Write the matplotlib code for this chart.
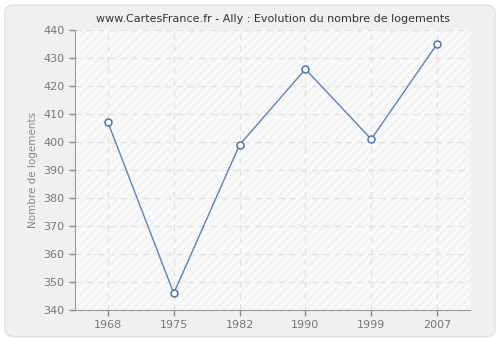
import matplotlib
matplotlib.use("Agg")
import matplotlib.pyplot as plt
from matplotlib.patches import FancyBboxPatch

years = ["1968", "1975", "1982", "1990", "1999", "2007"]
logements = [407, 346, 399, 426, 401, 435]

plt.rcParams['font.family'] = ['DejaVu Sans']

fig = plt.figure(figsize=(5, 3.4), dpi=100)
fig.patch.set_facecolor('white')
# rounded grey background, behind the axes
bg = FancyBboxPatch((0.01, 0.01), 0.98, 0.975, boxstyle="round,pad=0,rounding_size=0.02",
                    transform=fig.transFigure, facecolor='#f0f0f0', edgecolor='#e0e0e0',
                    lw=1, zorder=-10)
fig.patches.append(bg)

ax = fig.add_axes([0.15, 0.088, 0.79, 0.824])
ax.set_facecolor('#f9f9f9')
ax.patch.set_hatch('////')
ax.patch.set_edgecolor('#f0f0f0')

x = list(range(len(years)))
ax.plot(x, logements, color='#5b84b6', lw=1, marker='o', markersize=5,
        markerfacecolor='white', markeredgecolor='#4a75a8', markeredgewidth=1.1, zorder=3)

ax.set_xlim(-0.5, len(years) - 0.5)
ax.set_ylim(340, 440)
ax.set_xticks(x)
ax.set_xticklabels(years)
ax.set_yticks(range(340, 441, 10))

ax.grid(True, color='#e2e2e2', linestyle=(0, (5, 4)), lw=0.9)
ax.set_axisbelow(True)

for side in ['top', 'right']:
    ax.spines[side].set_visible(False)
for side in ['left', 'bottom']:
    ax.spines[side].set_color('#999999')
ax.tick_params(colors='#888888', labelsize=8, length=4, width=1)
ax.tick_params(axis='both', labelcolor='#777777')

ax.set_ylabel('Nombre de logements', fontsize=7.5, color='#888888')
ax.set_title('www.CartesFrance.fr - Ally : Evolution du nombre de logements',
             fontsize=8, color='#333333', pad=6)

fig.savefig('out.png', dpi=100, facecolor=fig.get_facecolor())
